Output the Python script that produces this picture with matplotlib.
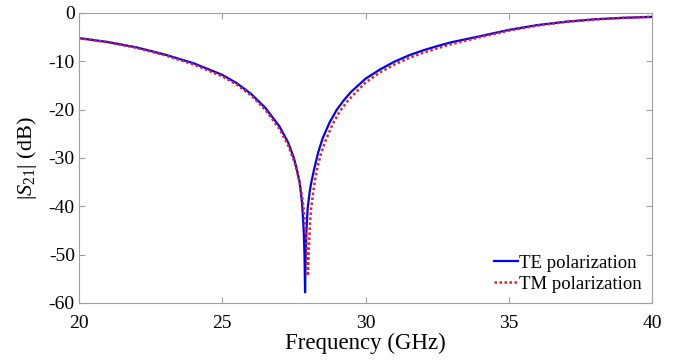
import matplotlib
matplotlib.use("Agg")
import matplotlib.pyplot as plt

plt.rcParams['font.family'] = ['Liberation Serif', 'DejaVu Serif']
plt.rcParams['mathtext.fontset'] = 'custom'
plt.rcParams['mathtext.rm'] = 'Liberation Serif'
plt.rcParams['mathtext.it'] = 'Liberation Serif:italic'
plt.rcParams['axes.unicode_minus'] = False

# TE polarization (GHz, dB)
f_te = [20, 21, 22, 23, 24, 25, 25.5, 26, 26.5, 27, 27.3, 27.5, 27.6, 27.7, 27.78,
        27.82, 27.85, 27.87, 27.89, 27.91, 27.94, 27.98, 28.05, 28.1, 28.2, 28.35,
        28.5, 28.75, 29.0, 29.25, 29.5, 30, 30.5, 31, 31.5, 32, 32.5, 33, 34, 35,
        36, 37, 38, 39, 40]
s21_te = [-5.2, -6.0, -7.1, -8.6, -10.4, -12.8, -14.5, -16.7, -19.6, -23.5, -26.8,
          -30.0, -32.3, -35.0, -39.0, -42.5, -46.0, -50.0, -57.8, -50.0, -45.0,
          -40.5, -37.0, -35.3, -32.5, -28.8, -26.0, -22.6, -20.0, -18.0, -16.3,
          -13.6, -11.7, -10.1, -8.8, -7.75, -6.85, -6.05, -4.8, -3.5, -2.5, -1.8,
          -1.3, -1.0, -0.8]

# TM polarization (GHz, dB)
f_tm = [20, 21, 22, 23, 24, 25, 25.5, 26, 26.5, 27, 27.3, 27.5, 27.6, 27.7, 27.8,
        27.85, 27.9, 27.95, 27.99, 28.02, 28.06, 28.1, 28.2, 28.3, 28.45, 28.6,
        28.85, 29.1, 29.35, 29.6, 30, 30.5, 31, 31.5, 32, 32.5, 33, 34, 35, 36,
        37, 38, 39, 40]
s21_tm = [-5.2, -6.05, -7.2, -8.75, -10.65, -13.1, -14.8, -17.0, -20.0, -24.0, -27.4,
          -30.5, -32.5, -35.0, -38.5, -41.0, -44.5, -49.0, -54.4, -49.0, -44.0,
          -40.5, -36.0, -32.5, -29.0, -26.5, -23.0, -20.4, -18.4, -16.8, -14.4,
          -12.3, -10.7, -9.35, -8.25, -7.3, -6.45, -5.0, -3.65, -2.6, -1.85, -1.35,
          -1.0, -0.8]

x_ticks = [20, 25, 30, 35, 40]
y_ticks = [0, -10, -20, -30, -40, -50, -60]

fig = plt.figure(figsize=(6.77, 3.61), dpi=100)
ax = fig.add_axes([0.1167, 0.1607, 0.8464, 0.8033])

ax.plot(f_te, s21_te, color='#0000ff', lw=1.6, label='TE polarization')
ax.plot(f_tm, s21_tm, color='#e02020', lw=1.8, ls=(0, (1, 1)), label='TM polarization')

ax.set_xlim(20, 40)
ax.set_ylim(-60, 0)
ax.set_xticks(x_ticks)
ax.set_yticks(y_ticks)
ax.tick_params(direction='in', length=4, color='#a0a0a0', labelsize=14,
               top=True, right=True)
ax.tick_params(axis='x', pad=8.5)
ax.tick_params(axis='y', pad=3)
for s in ax.spines.values():
    s.set_color('#a0a0a0')
    s.set_linewidth(0.8)

ax.set_xlabel('Frequency (GHz)', fontsize=16.5, labelpad=1)
ax.set_ylabel(r'$|S_{21}|$ (dB)', fontsize=16, labelpad=7)

ax.legend(loc='lower right', frameon=False, fontsize=13.5, handlelength=1.3,
          handletextpad=0.05, borderaxespad=0.15, labelspacing=0.2)

fig.savefig('out.png', dpi=100)
